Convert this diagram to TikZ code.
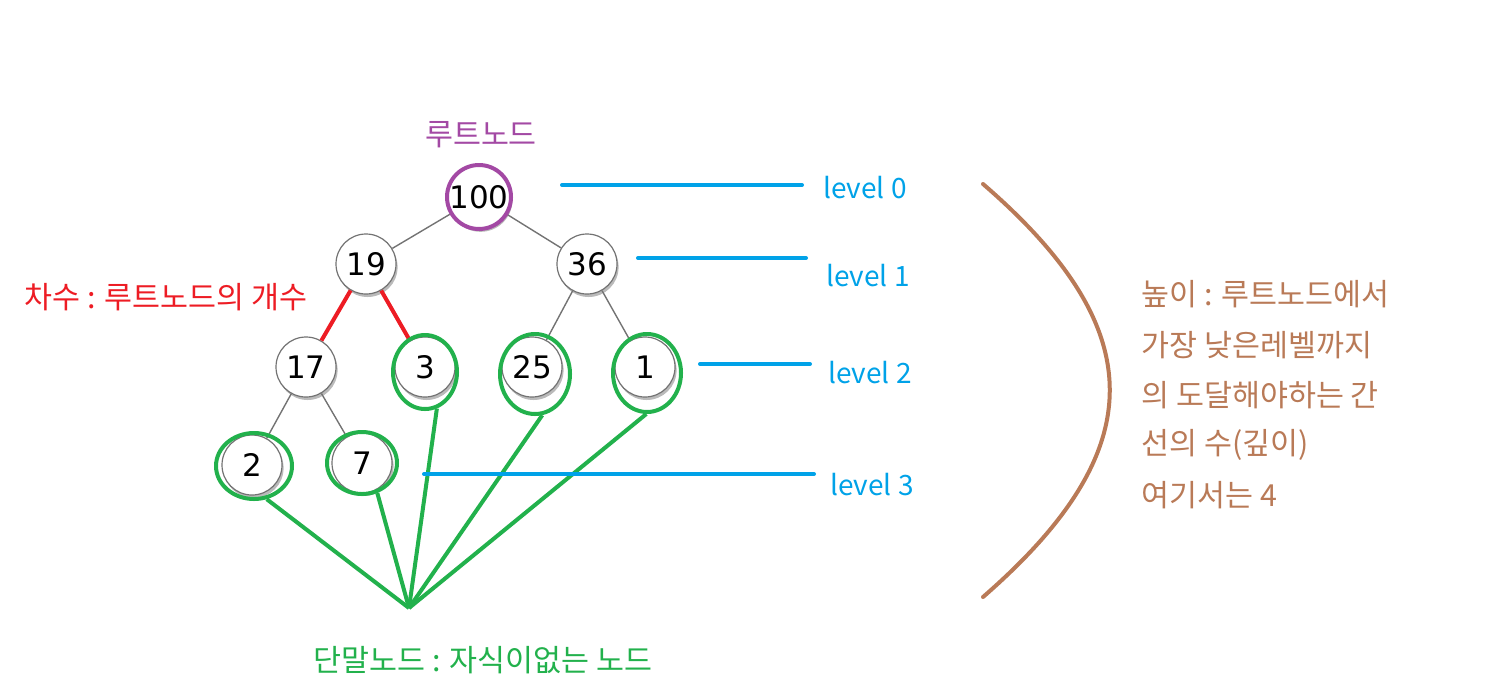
\documentclass[tikz,border=0pt]{standalone}
\usepackage{fontspec}
\newfontfamily\kr{Noto Sans CJK KR}
\newfontfamily\dv{DejaVu Sans}
\usetikzlibrary{shadows,shapes.geometric}
\definecolor{pblue}{HTML}{00A2E8}
\definecolor{pred}{HTML}{ED1C24}
\definecolor{pgreen}{HTML}{22B14C}
\definecolor{ppurple}{HTML}{A349A4}
\definecolor{pbrown}{HTML}{B97A57}
\tikzset{
  tnode/.style={circle, draw=black!55, line width=0.6pt, fill=white, minimum size=30pt, inner sep=0pt,
    font=\dv\fontsize{15.5}{16}\selectfont,
    drop shadow={shadow xshift=0.8pt, shadow yshift=-1.5pt, fill=black!60, opacity=0.45}},
  tedge/.style={draw=black!55, line width=0.7pt},
  leaf/.style={ellipse, draw=pgreen, line width=2pt, inner sep=0pt},
  leafline/.style={draw=pgreen, line width=2pt},
  degline/.style={draw=pred, line width=2pt},
  lvline/.style={draw=pblue, line width=2pt, line cap=round},
  lvtext/.style={text=pblue, font=\kr\fontsize{14}{16}\selectfont},
  ktext/.style={font=\kr\fontsize{15.2}{18}\selectfont},
}
\begin{document}
\begin{tikzpicture}[x=0.5pt,y=-0.5pt]
\useasboundingbox (0,0) rectangle (1491,697);
\node[tnode] (n19) at (366,264) {19};
\node[tnode] (n36) at (587,264) {36};
\node[tnode] (n17) at (306,367) {17};
\node[tnode] (n3) at (425,367) {3};
\node[tnode] (n25) at (532,367) {25};
\node[tnode] (n1) at (645,367) {1};
\node[tnode] (n2) at (252,465) {2};
\node[tnode] (n7) at (362,463) {7};
\node[tnode] (n100) at (479,197) {100};
% tree edges
\draw[tedge] (n100) -- (n19);
\draw[tedge] (n100) -- (n36);
\draw[tedge] (n36) -- (n25);
\draw[tedge] (n36) -- (n1);
\draw[tedge] (n17) -- (n2);
\draw[tedge] (n17) -- (n7);
\draw[degline] (n19) -- (n17);
\draw[degline] (n19) -- (n3);
% root marker
\node[circle, draw=ppurple, line width=2pt, minimum size=32pt, inner sep=0pt] (root) at (479,197) {};
\node[ktext, text=ppurple] (rootlbl) at (481,135) {루트노드};
% leaves
\node[leaf, minimum width=32pt, minimum height=37pt] (g3) at (425,372) {};
\node[leaf, minimum width=35pt, minimum height=40pt] (g25) at (535,374) {};
\node[leaf, minimum width=34pt, minimum height=39pt] (g1) at (647,373) {};
\node[leaf, minimum width=38pt, minimum height=33pt] (g2) at (254,466) {};
\node[leaf, minimum width=35pt, minimum height=31pt] (g7) at (362,463) {};
\coordinate (hub) at (409,608);
\draw[leafline] (g2.-69) -- (hub);
\draw[leafline] (g7.-63) -- (hub);
\draw[leafline] (g3.-72) -- (hub);
\draw[leafline] (g25.-80) -- (hub);
\draw[leafline] (g1.-91) -- (hub);
\node[ktext, text=pgreen] (leaflbl) at (483,660) {단말노드 : 자식이없는 노드};
% degree label
\node[ktext, text=pred, anchor=west, inner sep=0pt] (deglbl) at (24,297) {차수 : 루트노드의 개수};
% levels
\coordinate (l0a) at (562,185); \coordinate (l0b) at (802,185);
\coordinate (l1a) at (638,258); \coordinate (l1b) at (806,258);
\coordinate (l2a) at (700,364); \coordinate (l2b) at (810,364);
\coordinate (l3a) at (424,474); \coordinate (l3b) at (814,474);
\draw[lvline] (l0a) -- (l0b);
\draw[lvline] (l1a) -- (l1b);
\draw[lvline] (l2a) -- (l2b);
\draw[lvline] (l3a) -- (l3b);
\node[lvtext] (lv0) at (865,188) {level 0};
\node[lvtext] (lv1) at (868,276) {level 1};
\node[lvtext] (lv2) at (870,373) {level 2};
\node[lvtext] (lv3) at (872,485) {level 3};
% height brace
\coordinate (ha) at (983,184);
\coordinate (hb) at (983,597);
\draw[pbrown, line width=2pt, line cap=round] (ha) .. controls (1152,330) and (1152,450) .. (hb);
\begin{scope}[every node/.style={ktext, text=pbrown, anchor=west, inner sep=0pt}]
\node (h1) at (1141,294) {높이 : 루트노드에서};
\node (h2) at (1141,345) {가장 낮은레벨까지};
\node (h3) at (1141,395) {의 도달해야하는 간};
\node (h4) at (1141,445) {선의 수(깊이)};
\node (h5) at (1141,495) {여기서는 4};
\end{scope}
\end{tikzpicture}
\end{document}
